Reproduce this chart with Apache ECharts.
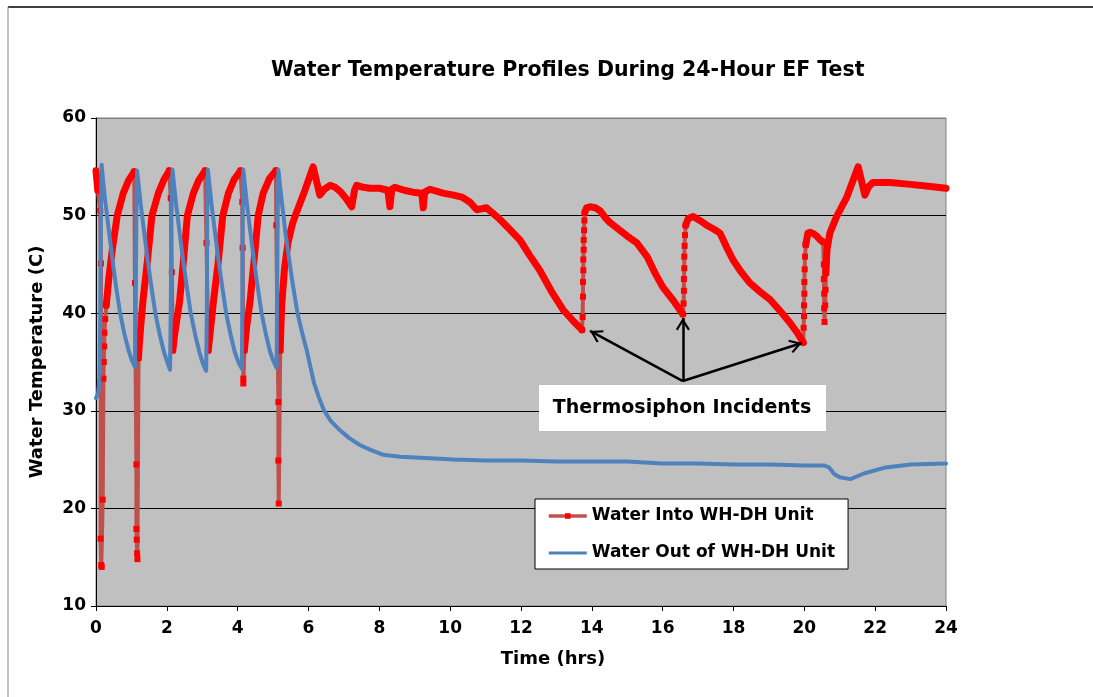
<!DOCTYPE html>
<html>
<head>
<meta charset="utf-8">
<title>Water Temperature Profiles During 24-Hour EF Test</title>
<script src="https://cdn.jsdelivr.net/npm/echarts@6/dist/echarts.min.js"></script>
<style>
  html, body { margin: 0; padding: 0; background: #fff; }
  #chart { width: 1093px; height: 697px; }
</style>
</head>
<body>
<div id="chart"></div>
<script>
var chartDom = document.getElementById('chart');
var myChart = echarts.init(chartDom, null, { renderer: 'canvas' });
var option;

const FONT = 'DejaVu Sans';
const seriesNames = ['Water Into WH-DH Unit', 'Water Out of WH-DH Unit'];

// inlet temperature, smooth parts (time hrs, deg C), split where the trace jumps
const inletBody = [
  [[0, 54.6], [0.05, 52.6]],
  [[0.29, 40.8], [0.36, 43.5], [0.46, 46.5], [0.6, 50.0], [0.77, 52.3], [0.92, 53.6], [1.08, 54.5]],
  [[1.2, 35.4], [1.22, 36.6], [1.27, 39.0], [1.33, 41.4], [1.45, 45.3], [1.58, 50.0], [1.76, 52.3], [1.92, 53.7], [2.07, 54.6]],
  [[2.17, 36.2], [2.22, 37.8], [2.29, 39.5], [2.36, 41.2], [2.46, 45.0], [2.58, 50.0], [2.75, 52.3], [2.9, 53.6], [3.08, 54.6]],
  [[3.17, 36.2], [3.22, 37.9], [3.31, 41.0], [3.45, 45.2], [3.58, 50.0], [3.74, 52.3], [3.9, 53.7], [4.08, 54.6]],
  [[4.19, 36.2], [4.25, 38.5], [4.35, 41.2], [4.46, 45.3], [4.58, 50.0], [4.72, 52.3], [4.9, 53.8], [5.08, 54.6]],
  [[5.2, 36.2], [5.24, 40.6], [5.32, 44.5], [5.42, 47.2], [5.55, 49.2], [5.66, 50.3], [5.9, 52.6], [6.13, 55.0],
   [6.32, 52.1], [6.45, 52.7], [6.61, 53.1], [6.75, 52.9], [6.89, 52.5], [7.05, 51.8], [7.22, 50.9], [7.3, 52.6],
   [7.36, 53.1], [7.55, 52.9], [7.73, 52.8], [8.0, 52.8], [8.24, 52.6], [8.3, 50.9], [8.35, 52.7], [8.44, 52.9],
   [8.7, 52.6], [8.95, 52.4], [9.2, 52.3], [9.24, 50.8], [9.28, 52.4], [9.43, 52.7], [9.8, 52.3], [10.1, 52.1],
   [10.33, 51.9], [10.55, 51.4], [10.75, 50.6], [11.03, 50.8], [11.35, 49.8], [11.65, 48.7], [11.97, 47.5],
   [12.25, 45.9], [12.53, 44.4], [12.85, 42.3], [13.2, 40.3], [13.5, 39.1], [13.72, 38.3]],
  [[13.8, 50.3], [13.85, 50.8], [13.95, 50.9], [14.1, 50.8], [14.23, 50.5], [14.4, 49.7], [14.51, 49.3], [14.79, 48.5],
   [15.0, 47.9], [15.27, 47.2], [15.56, 45.8], [15.8, 44.0], [16.0, 42.7], [16.3, 41.3], [16.57, 39.9]],
  [[16.65, 49.0], [16.72, 49.7], [16.86, 49.9], [17.05, 49.5], [17.25, 49.0], [17.45, 48.6], [17.62, 48.2], [17.8, 46.8],
   [17.98, 45.5], [18.2, 44.3], [18.46, 43.1], [18.75, 42.2], [19.03, 41.4], [19.3, 40.3], [19.6, 39.0], [19.8, 38.0], [19.97, 37.0]],
  [[20.04, 47.0], [20.1, 48.2], [20.16, 48.3], [20.28, 48.1], [20.35, 47.9], [20.45, 47.5], [20.53, 47.3]],
  [[20.61, 44.1], [20.64, 46.5], [20.72, 48.2], [20.91, 49.9], [21.2, 51.9], [21.52, 55.0], [21.71, 52.1], [21.82, 53.0],
   [21.94, 53.4], [22.42, 53.4], [23.0, 53.2], [23.5, 53.0], [24, 52.8]]
];

// inlet temperature, fast jumps where the logged points sit far apart
const inletJumps = [
  [[0.05, 52.6], [0.12, 50.5], [0.14, 45.1], [0.13, 16.9], [0.15, 14.2], [0.16, 14.0], [0.19, 20.9], [0.21, 33.3],
   [0.22, 35.0], [0.23, 36.6], [0.24, 38.0], [0.26, 39.4], [0.29, 40.8]],
  [[1.08, 54.5], [1.1, 43.1], [1.14, 24.5], [1.14, 17.9], [1.15, 16.8], [1.16, 15.4], [1.17, 14.8], [1.2, 35.4]],
  [[2.07, 54.6], [2.11, 51.8], [2.14, 44.2], [2.17, 36.2]],
  [[3.08, 54.6], [3.12, 47.2], [3.17, 36.2]],
  [[4.08, 54.6], [4.13, 51.4], [4.14, 46.7], [4.16, 33.3], [4.16, 32.8], [4.19, 36.2]],
  [[5.08, 54.6], [5.09, 49.0], [5.15, 30.9], [5.15, 24.9], [5.16, 20.5], [5.2, 36.2]],
  [[13.72, 38.3], [13.74, 39.6], [13.75, 41.7], [13.75, 43.2], [13.76, 44.4], [13.76, 45.5], [13.77, 46.5],
   [13.77, 47.5], [13.78, 48.5], [13.79, 49.5], [13.8, 50.3]],
  [[16.57, 39.9], [16.59, 41.0], [16.6, 42.3], [16.6, 43.5], [16.61, 44.6], [16.61, 45.8], [16.62, 46.9],
   [16.63, 48.0], [16.65, 49.0]],
  [[19.97, 37.0], [19.98, 38.5], [19.99, 39.7], [19.99, 40.8], [20.0, 42.0], [20.0, 43.2], [20.01, 44.5],
   [20.02, 45.8], [20.04, 47.0]],
  [[20.53, 47.3], [20.55, 45.0], [20.55, 43.5], [20.56, 42.0], [20.56, 40.5], [20.57, 39.1], [20.59, 40.8],
   [20.6, 42.4], [20.61, 44.1]]
];

// outlet temperature (time hrs, deg C)
const outletTemp = [
  [0, 31.3], [0.06, 31.8], [0.1, 33.5], [0.12, 40.0], [0.135, 50.0], [0.16, 55.2],
  [0.2, 53.6], [0.26, 51.5], [0.36, 48.6], [0.46, 45.6], [0.56, 42.9], [0.68, 40.0], [0.8, 37.9], [0.92, 36.2], [1.02, 35.1], [1.1, 34.5],
  [1.12, 40.0], [1.14, 50.0], [1.16, 54.6],
  [1.2, 53.3], [1.26, 51.2], [1.36, 48.3], [1.46, 45.4], [1.56, 42.8], [1.68, 39.9], [1.8, 37.8], [1.92, 36.0], [2.02, 34.9], [2.09, 34.2],
  [2.11, 40.0], [2.13, 50.0], [2.16, 54.7],
  [2.2, 53.3], [2.26, 51.2], [2.36, 48.3], [2.46, 45.4], [2.56, 42.8], [2.68, 39.9], [2.8, 37.8], [2.92, 36.0], [3.02, 34.8], [3.11, 34.1],
  [3.13, 40.0], [3.14, 50.0], [3.16, 54.7],
  [3.2, 53.3], [3.26, 51.2], [3.36, 48.3], [3.46, 45.4], [3.56, 42.8], [3.68, 39.9], [3.8, 37.8], [3.92, 36.0], [4.03, 34.9], [4.12, 34.3],
  [4.13, 40.0], [4.14, 50.0], [4.16, 54.7],
  [4.2, 53.3], [4.26, 51.2], [4.36, 48.3], [4.46, 45.4], [4.56, 42.8], [4.68, 39.9], [4.8, 37.8], [4.92, 36.0], [5.02, 35.0], [5.1, 34.4],
  [5.11, 40.0], [5.13, 50.0], [5.15, 54.7],
  [5.19, 53.3], [5.26, 51.0], [5.35, 48.2], [5.45, 45.6], [5.55, 43.1], [5.69, 40.0], [5.82, 38.0], [5.95, 36.2], [6.06, 34.4],
  [6.16, 32.8], [6.29, 31.4], [6.43, 30.1], [6.62, 29.0], [6.89, 28.0], [7.15, 27.2], [7.45, 26.5], [7.75, 26.0], [8.1, 25.5],
  [8.6, 25.3], [9.15, 25.2], [10.1, 25.0], [11, 24.9], [12, 24.9], [13, 24.8], [14, 24.8], [15, 24.8], [16, 24.6], [17, 24.6],
  [18, 24.5], [19, 24.5], [20, 24.4], [20.55, 24.4], [20.7, 24.2], [20.85, 23.5], [21.0, 23.2], [21.3, 23.0], [21.7, 23.6],
  [22.3, 24.2], [23, 24.5], [24, 24.6]
];

function joinSegments(segs) {
  let out = [];
  segs.forEach((s, i) => {
    if (i) out.push(['-', '-']);
    s.forEach((p) => out.push(p));
  });
  return out;
}

// open arrow head, tip placed at the symbol centre
const chevron = 'path://M7,-12.4 M7,0 L14,11.2 L12.2,12.4 L7,4 L1.8,12.4 L0,11.2 Z';
// plain line legend icon (no marker) for the outlet trace
const plainLineIcon = 'path://M0,0 M38,7 M0,2 L38,2 L38,5 L0,5 Z';

const boldText = (size) => ({
  fontFamily: FONT,
  fontWeight: 'bold',
  fontSize: size,
  color: '#000'
});

option = {
  animation: false,
  backgroundColor: '#fff',
  title: {
    text: 'Water Temperature Profiles During 24-Hour EF Test',
    left: 271,
    top: 60,
    padding: 0,
    textStyle: boldText(20.5)
  },
  legend: {
    data: [
      { name: seriesNames[0] },
      { name: seriesNames[1], icon: plainLineIcon }
    ],
    orient: 'vertical',
    left: 535,
    top: 499,
    backgroundColor: '#fff',
    borderColor: '#000',
    borderWidth: 1,
    padding: [7, 13, 6, 12],
    itemWidth: 38,
    itemHeight: 7,
    itemGap: 17,
    selectedMode: false,
    lineStyle: { width: 3.5 },
    textStyle: Object.assign(boldText(17), { lineHeight: 20 })
  },
  grid: {
    left: 96,
    top: 118,
    right: 147,
    bottom: 91,
    show: true,
    backgroundColor: '#C0C0C0',
    borderColor: '#808080',
    borderWidth: 1
  },
  xAxis: {
    type: 'value',
    min: 0,
    max: 24,
    interval: 2,
    name: 'Time (hrs)',
    nameLocation: 'middle',
    nameGap: 44,
    nameTextStyle: Object.assign(boldText(18), { padding: [0, 0, 0, 64] }),
    axisLine: { lineStyle: { color: '#000', width: 1 } },
    axisTick: { show: true, inside: false, length: 5, lineStyle: { color: '#000' } },
    axisLabel: Object.assign(boldText(17), { margin: 14 }),
    splitLine: { show: false }
  },
  yAxis: {
    type: 'value',
    min: 10,
    max: 60,
    interval: 10,
    name: 'Water Temperature (C)',
    nameLocation: 'middle',
    nameGap: 50,
    nameTextStyle: boldText(18),
    axisLine: { show: true, lineStyle: { color: '#000', width: 1 } },
    axisTick: { show: true, inside: false, length: 5, lineStyle: { color: '#000' } },
    axisLabel: Object.assign(boldText(17), { margin: 10 }),
    splitLine: {
      show: true,
      lineStyle: { color: ['#000', '#000', '#000', '#000', '#000', '#808080'], width: 1 }
    }
  },
  series: [
    {
      name: seriesNames[0],
      type: 'line',
      data: joinSegments(inletJumps),
      connectNulls: false,
      symbol: 'rect',
      symbolSize: 6,
      showSymbol: true,
      showAllSymbol: true,
      itemStyle: { color: '#FF0000' },
      lineStyle: { color: '#C0504D', width: 4 },
      silent: true,
      z: 2
    },
    {
      name: seriesNames[0],
      type: 'line',
      data: joinSegments(inletBody),
      connectNulls: false,
      symbol: 'none',
      itemStyle: { color: '#FF0000' },
      lineStyle: { color: '#FF0000', width: 7, join: 'round', cap: 'round' },
      silent: true,
      z: 3
    },
    {
      name: seriesNames[1],
      type: 'line',
      data: outletTemp,
      symbol: 'none',
      itemStyle: { color: '#4F81BD' },
      lineStyle: { color: '#4F81BD', width: 4, join: 'round', cap: 'round' },
      silent: true,
      z: 4,
      markLine: {
        silent: true,
        animation: false,
        symbol: ['none', chevron],
        symbolSize: [14, 25],
        label: { show: false },
        lineStyle: { color: '#000', width: 2.5, type: 'solid' },
        emphasis: { disabled: true },
        data: [
          [{ coord: [16.57, 33.05] }, { coord: [13.95, 38.18] }],
          [{ coord: [16.57, 33.05] }, { coord: [16.57, 39.5] }],
          [{ coord: [16.57, 33.05] }, { coord: [19.93, 36.95] }]
        ]
      }
    }
  ],
  graphic: [
    { type: 'line', shape: { x1: 8, y1: 7, x2: 1093, y2: 7 }, style: { stroke: '#000', lineWidth: 1.5 } },
    { type: 'line', shape: { x1: 8, y1: 7, x2: 8, y2: 697 }, style: { stroke: '#888', lineWidth: 1 } },
    { type: 'rect', shape: { x: 539, y: 385, width: 287, height: 46 }, style: { fill: '#fff' }, z: 100 },
    {
      type: 'text', x: 682, y: 408, z: 101,
      style: {
        text: 'Thermosiphon Incidents',
        font: 'bold 19px "DejaVu Sans"',
        fill: '#000',
        align: 'center',
        verticalAlign: 'middle'
      }
    }
  ]
};

option && myChart.setOption(option);
</script>
</body>
</html>
